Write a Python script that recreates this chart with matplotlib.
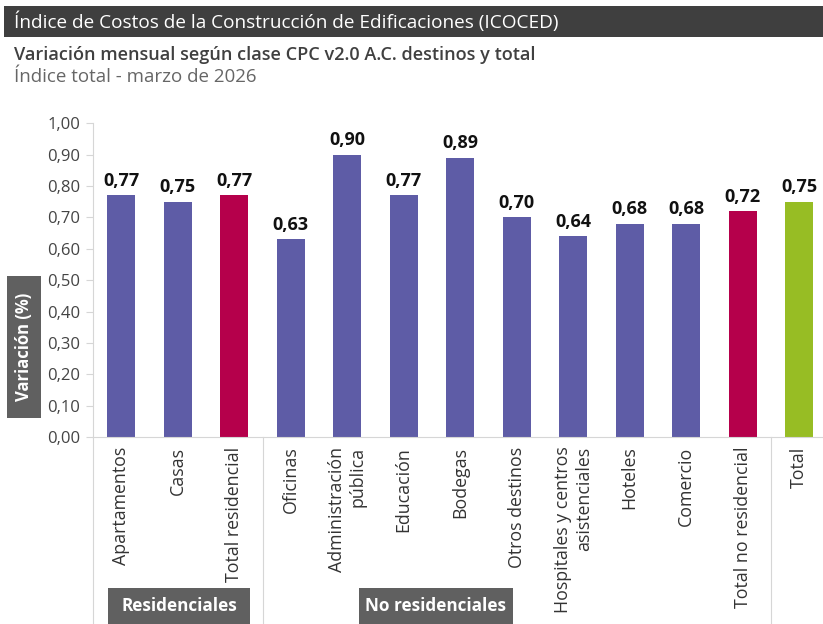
import matplotlib
matplotlib.use("Agg")
import matplotlib.pyplot as plt
from matplotlib.patches import Rectangle

categories = ["Apartamentos", "Casas", "Total residencial", "Oficinas",
              "Administración\npública", "Educación", "Bodegas", "Otros destinos",
              "Hospitales y centros\nasistenciales", "Hoteles", "Comercio",
              "Total no residencial", "Total"]
values = [0.77, 0.75, 0.77, 0.63, 0.90, 0.77, 0.89, 0.70, 0.64, 0.68, 0.68, 0.72, 0.75]
kinds = ["d", "d", "t", "d", "d", "d", "d", "d", "d", "d", "d", "t", "g"]
yticks = [0.0, 0.1, 0.2, 0.3, 0.4, 0.5, 0.6, 0.7, 0.8, 0.9, 1.0]
group_names = ["Residenciales", "No residenciales"]
group_edges = [2.5, 11.5]

PURPLE = "#5e5ca6"
CRIMSON = "#b5004b"
GREEN = "#97bd24"
colors = {"d": PURPLE, "t": CRIMSON, "g": GREEN}
GRID = "#d6d6d6"
BOX = "#606060"

plt.rcParams["font.family"] = ["Open Sans", "DejaVu Sans"]

W, H = 823, 624
fig = plt.figure(figsize=(W / 100, H / 100), dpi=100)
ax = fig.add_axes([93 / W, (H - 437) / H, (827.5 - 93) / W, (437 - 123.3) / H])

x = list(range(len(categories)))
ax.bar(x, values, width=0.5, color=[colors[k] for k in kinds], zorder=2)
for xi, v in zip(x, values):
    ax.annotate(f"{v:.2f}".replace(".", ","), (xi, v), xytext=(0, 4),
                textcoords="offset points", ha="center", va="bottom",
                fontsize=13, fontweight="bold", color="#111111")

ax.set_xlim(-0.5, len(categories) - 0.5)
ax.set_ylim(0, 1.0)
ax.set_yticks(yticks)
ax.set_yticklabels([f"{t:.2f}".replace(".", ",") for t in yticks])
ax.set_xticks(x)
ax.set_xticklabels(categories, rotation=90, ha="center", va="top",
                   multialignment="right")
ax.tick_params(axis="x", length=0, pad=7, labelsize=12.8, labelcolor="#333333")
ax.tick_params(axis="y", length=5, width=0.8, color=GRID, pad=4,
               labelsize=12, labelcolor="#444444")
for s in ["top", "right", "left"]:
    ax.spines[s].set_visible(False)
ax.spines["bottom"].set_color(GRID)
ax.spines["bottom"].set_linewidth(0.8)

# left axis line and group separators running down to the bottom edge
for e in [-0.5] + group_edges:
    ax.plot([e, e], [-0.6, 1.0 if e == -0.5 else 0.0], color=GRID, lw=0.8,
            clip_on=False, zorder=1)

# title bar
fig.add_artist(Rectangle((4 / W, 1 - 37 / H), 1, 31 / H, transform=fig.transFigure,
                         color="#3f3f3f", lw=0))
fig.text(14 / W, 1 - 21.5 / H, "Índice de Costos de la Construcción de Edificaciones (ICOCED)",
         color="white", fontsize=13.7, va="center", ha="left")
fig.text(14 / W, 1 - 55 / H, "Variación mensual según clase CPC v2.0 A.C. destinos y total",
         color="#404040", fontsize=13.1, va="center", ha="left", fontweight="semibold")
fig.text(14 / W, 1 - 77 / H, "Índice total - marzo de 2026",
         color="#666666", fontsize=13.5, va="center", ha="left")

# y label box
fig.add_artist(Rectangle((7 / W, 1 - 418 / H), 34 / W, 142 / H,
                         transform=fig.transFigure, color=BOX, lw=0))
fig.text(24 / W, 1 - 347 / H, "Variación (%)", rotation=90, color="white",
         fontsize=12, fontweight="bold", ha="center", va="center")

# group boxes
for name, (x0, x1) in zip(group_names, [(108, 250), (359, 513)]):
    fig.add_artist(Rectangle((x0 / W, 0), (x1 - x0) / W, 36 / H,
                             transform=fig.transFigure, color=BOX, lw=0))
    fig.text((x0 + x1) / 2 / W, 18 / H, name, color="white", fontsize=12.3,
             fontweight="bold", ha="center", va="center")

fig.savefig("out.png", dpi=100, facecolor="white")
